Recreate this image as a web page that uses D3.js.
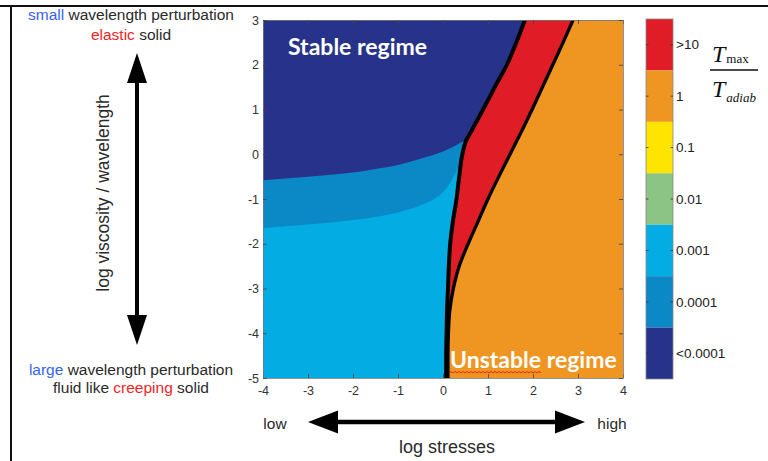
<!DOCTYPE html>
<html>
<head>
<meta charset="utf-8">
<script src="https://cdn.jsdelivr.net/npm/d3@7"></script>
<style>
body { margin: 0; background: #fff; }
svg { display: block; font-family: "Liberation Sans", Arial, sans-serif; }
.tick text { font-size: 12.5px; }
.cbl { font-size: 13.5px; }
</style>
</head>
<body>
<svg id="chart" width="768" height="461"></svg>
<script>
// ---- data ----
var xTicks = [-4, -3, -2, -1, 0, 1, 2, 3, 4];
var yTicks = [3, 2, 1, 0, -1, -2, -3, -4, -5];

var bandLabels = [">10", "1", "0.1", "0.01", "0.001", "0.0001", "<0.0001"];
var bandColors = ["#e01c27", "#ee9522", "#ffe400", "#8cc485", "#03ade4", "#0b88c6", "#27338a"];

// the two black fronts (log stress position at each log viscosity level)
var frontY      = [-5, -4.5, -4, -3.5, -3, -2.5, -2, -1.5, -1, -0.5, 0, 0.3, 0.5, 1, 1.5, 2, 2.5, 3];
var leftFrontX  = [0.07, 0.07, 0.08, 0.09, 0.11, 0.13, 0.16, 0.22, 0.30, 0.36, 0.43, 0.51, 0.62, 0.89, 1.15, 1.42, 1.63, 1.82];
var rightFrontX = [0.11, 0.11, 0.12, 0.15, 0.23, 0.36, 0.56, 0.78, 1.00, 1.24, 1.49, 1.64, 1.74, 1.98, 2.21, 2.44, 2.67, 2.89];

// colour edges inside the stable field
var navyEdgeX = [-4, -3, -2, -1.5, -1, -0.5, 0, 0.2, 0.4, 0.5, 2];
var navyEdgeY = [-0.58, -0.5, -0.41, -0.33, -0.24, -0.1, 0.06, 0.15, 0.26, 0.3, 0.3];
var midEdgeX  = [-4, -3, -2, -1, -0.5, -0.2, 0, 0.15, 0.3, 0.45, 2];
var midEdgeY  = [-1.65, -1.57, -1.47, -1.3, -1.14, -1.0, -0.85, -0.65, -0.38, -0.1, -0.1];

var svg = d3.select("#chart");

svg.append("rect").attr("width", 768).attr("height", 461).attr("fill", "#fff");

// frame of the slide
svg.append("line").attr("x1", 0).attr("x2", 768).attr("y1", 6).attr("y2", 6).attr("stroke", "#111").attr("stroke-width", 2);
svg.append("line").attr("x1", 11).attr("x2", 11).attr("y1", 6).attr("y2", 461).attr("stroke", "#111").attr("stroke-width", 2);

var x = d3.scaleLinear().domain([-4, 4]).range([263, 623]);
var y = d3.scaleLinear().domain([-5, 3]).range([378, 20]);

var plot = svg.append("g");
plot.append("clipPath").attr("id", "clip").append("rect")
    .attr("x", x(-4)).attr("y", y(3)).attr("width", x(4) - x(-4)).attr("height", y(-5) - y(3));
var field = plot.append("g").attr("clip-path", "url(#clip)");

field.append("rect").attr("x", x(-4)).attr("y", y(3)).attr("width", x(4) - x(-4)).attr("height", y(-5) - y(3))
    .attr("fill", bandColors[4]);

var midPts = midEdgeX.map(function(v, i) { return [v, midEdgeY[i]]; });
var navyPts = navyEdgeX.map(function(v, i) { return [v, navyEdgeY[i]]; });

var topArea = d3.area().curve(d3.curveMonotoneX)
    .x(function(d) { return x(d[0]); })
    .y0(y(3))
    .y1(function(d) { return y(d[1]); });

field.append("path").attr("d", topArea(midPts)).attr("fill", bandColors[5]);
field.append("path").attr("d", topArea(navyPts)).attr("fill", bandColors[6]);

var front = frontY.map(function(v, i) { return { y: v, l: leftFrontX[i], r: rightFrontX[i] }; });

field.append("path")
    .attr("d", d3.area().curve(d3.curveMonotoneY)
        .y(function(d) { return y(d.y); })
        .x0(function(d) { return x(d.l); })
        .x1(x(4))(front))
    .attr("fill", bandColors[1]);

field.append("path")
    .attr("d", d3.area().curve(d3.curveMonotoneY)
        .y(function(d) { return y(d.y); })
        .x0(function(d) { return x(d.l); })
        .x1(function(d) { return x(d.r); })(front))
    .attr("fill", bandColors[0]);

var leftLine = d3.line().curve(d3.curveMonotoneY).x(function(d) { return x(d.l); }).y(function(d) { return y(d.y); });
var rightLine = d3.line().curve(d3.curveMonotoneY).x(function(d) { return x(d.r); }).y(function(d) { return y(d.y); });
field.append("path").attr("d", leftLine(front)).attr("fill", "none").attr("stroke", "#000").attr("stroke-width", 4);
field.append("path").attr("d", rightLine(front)).attr("fill", "none").attr("stroke", "#000").attr("stroke-width", 3.3);

// regime labels
field.append("text").attr("x", 288).attr("y", 55)
    .attr("font-family", "Lato, 'Open Sans', sans-serif").attr("font-weight", "bold").style("font-size", "23px")
    .attr("fill", "#fff").text("Stable regime");

var unst = field.append("text").attr("x", 450).attr("y", 368)
    .attr("font-family", "Lato, 'Open Sans', sans-serif").attr("font-weight", "bold").style("font-size", "23px")
    .attr("fill", "#fff");
unst.append("tspan").text("Unstable");
unst.append("tspan").text(" regime");
var uLen = unst.node().getSubStringLength(0, 8);
var wave = "M450," + 373;
for (var k = 0; k * 2 < uLen; k++) {
  wave += " L" + (450 + k * 2 + 1) + "," + (k % 2 ? 373 : 371.5);
}
field.append("path").attr("d", wave).attr("fill", "none").attr("stroke", "#e8261d").attr("stroke-width", 1);

// axes, Matlab box style with inward ticks
function styleAxis(g) {
  g.attr("font-family", null).attr("font-size", null);
  g.select(".domain").attr("stroke", "#777").attr("stroke-width", 0.8);
  g.selectAll(".tick line").attr("stroke", "#444").attr("stroke-width", 0.8);
  g.selectAll(".tick text").attr("fill", "#333");
}
var plain = function(d) { return String(d); };

svg.append("g").attr("transform", "translate(0," + y(-5) + ")")
    .call(d3.axisBottom(x).tickValues(xTicks).tickFormat(plain).tickSizeInner(-4).tickSizeOuter(0).tickPadding(8))
    .call(styleAxis);
svg.append("g").attr("transform", "translate(0," + y(3) + ")")
    .call(d3.axisTop(x).tickValues(xTicks).tickSizeInner(-4).tickSizeOuter(0).tickFormat(""))
    .call(styleAxis);
svg.append("g").attr("transform", "translate(" + x(-4) + ",0)")
    .call(d3.axisLeft(y).tickValues(yTicks).tickFormat(plain).tickSizeInner(-4).tickSizeOuter(0).tickPadding(4))
    .call(styleAxis);
svg.append("g").attr("transform", "translate(" + x(4) + ",0)")
    .call(d3.axisRight(y).tickValues(yTicks).tickSizeInner(-4).tickSizeOuter(0).tickFormat(""))
    .call(styleAxis);

// colour bar
var cb = d3.scaleBand().domain(bandLabels).range([19, 379]);
var bar = svg.append("g");
bar.selectAll("rect").data(bandLabels).enter().append("rect")
    .attr("x", 646).attr("y", function(d) { return cb(d); })
    .attr("width", 27).attr("height", cb.bandwidth())
    .attr("fill", function(d, i) { return bandColors[i]; });
bar.append("rect").attr("x", 646).attr("y", 19).attr("width", 27).attr("height", 360)
    .attr("fill", "none").attr("stroke", "#888").attr("stroke-width", 0.8);
bar.selectAll(".tl").data(bandLabels).enter().append("path")
    .attr("d", function(d) { var c = cb(d) + cb.bandwidth() / 2; return "M646," + c + "h2.5M673," + c + "h-2.5"; })
    .attr("stroke", "#333").attr("stroke-width", 0.8);
bar.selectAll("text").data(bandLabels).enter().append("text").attr("class", "cbl")
    .attr("x", 676).attr("y", function(d) { return cb(d) + cb.bandwidth() / 2; })
    .attr("dy", "0.35em").attr("fill", "#222").text(function(d) { return d; });

// T_max / T_adiab
var frac = svg.append("g").attr("font-family", "'Liberation Serif', 'DejaVu Serif', serif").attr("fill", "#111");
var num = frac.append("text").attr("x", 712).attr("y", 62);
num.append("tspan").attr("font-style", "italic").style("font-size", "24px").text("T");
num.append("tspan").style("font-size", "13px").attr("dx", 1).attr("dy", 1).text("max");
frac.append("line").attr("x1", 710).attr("x2", 758).attr("y1", 70).attr("y2", 70).attr("stroke", "#111").attr("stroke-width", 1.3);
var den = frac.append("text").attr("x", 712).attr("y", 97);
den.append("tspan").attr("font-style", "italic").style("font-size", "24px").text("T");
den.append("tspan").attr("font-style", "italic").style("font-size", "13px").attr("dx", 1).attr("dy", 5).text("adiab");

// annotations on the left
var blue = "#3862ee", red = "#f4241f", ink = "#2a2a2a";
function twoTone(xc, yb, parts) {
  var t = svg.append("text").attr("x", xc).attr("y", yb).attr("text-anchor", "middle").style("font-size", "15.5px");
  parts.forEach(function(p) { t.append("tspan").attr("fill", p[1]).text(p[0]); });
}
twoTone(131, 20, [["small", blue], [" wavelength perturbation", ink]]);
twoTone(131, 40, [["elastic", red], [" solid", ink]]);
twoTone(131, 375, [["large", blue], [" wavelength perturbation", ink]]);
twoTone(131, 393, [["fluid like ", ink], ["creeping", red], [" solid", ink]]);

svg.append("text").attr("transform", "translate(109,193) rotate(-90)").attr("text-anchor", "middle")
    .style("font-size", "17.5px").attr("fill", ink).text("log viscosity / wavelength");

// double arrows
function vArrow(xc, y0, y1, head, hw, sw) {
  return "M" + xc + "," + y0 + "L" + (xc + hw) + "," + (y0 + head) + "L" + (xc + sw) + "," + (y0 + head) +
    "L" + (xc + sw) + "," + (y1 - head) + "L" + (xc + hw) + "," + (y1 - head) + "L" + xc + "," + y1 +
    "L" + (xc - hw) + "," + (y1 - head) + "L" + (xc - sw) + "," + (y1 - head) + "L" + (xc - sw) + "," + (y0 + head) +
    "L" + (xc - hw) + "," + (y0 + head) + "Z";
}
function hArrow(yc, x0, x1, head, hw, sw) {
  return "M" + x0 + "," + yc + "L" + (x0 + head) + "," + (yc - hw) + "L" + (x0 + head) + "," + (yc - sw) +
    "L" + (x1 - head) + "," + (yc - sw) + "L" + (x1 - head) + "," + (yc - hw) + "L" + x1 + "," + yc +
    "L" + (x1 - head) + "," + (yc + hw) + "L" + (x1 - head) + "," + (yc + sw) + "L" + (x0 + head) + "," + (yc + sw) +
    "L" + (x0 + head) + "," + (yc + hw) + "Z";
}
svg.append("path").attr("d", vArrow(137, 53, 345, 30, 10, 2)).attr("fill", "#000");
svg.append("path").attr("d", hArrow(422, 308, 585, 30, 11.5, 2.3)).attr("fill", "#000");

svg.append("text").attr("x", 275).attr("y", 429).attr("text-anchor", "middle").style("font-size", "15.5px").attr("fill", ink).text("low");
svg.append("text").attr("x", 612).attr("y", 429).attr("text-anchor", "middle").style("font-size", "15.5px").attr("fill", ink).text("high");
svg.append("text").attr("x", 447).attr("y", 453).attr("text-anchor", "middle").style("font-size", "18px").attr("fill", ink).text("log stresses");
</script>
</body>
</html>
